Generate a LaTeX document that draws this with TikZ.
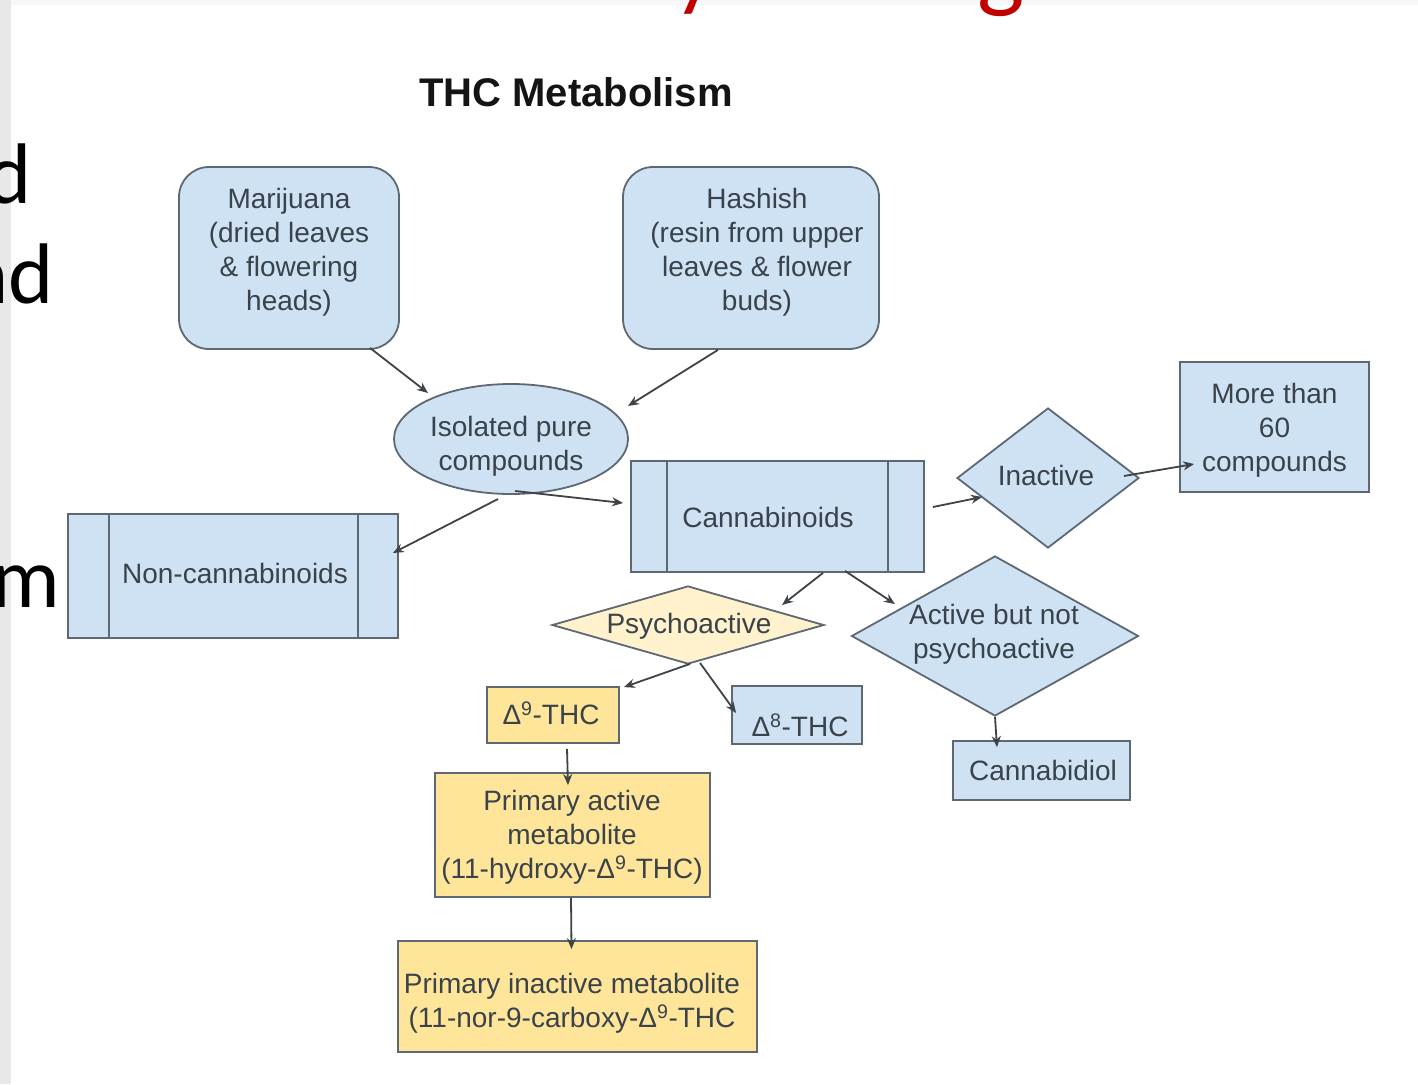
\documentclass[tikz,border=0pt]{standalone}
\usepackage{fontspec}
\setmainfont{Liberation Sans}
\newfontfamily\calib{Carlito}
\usetikzlibrary{shapes.geometric,arrows.meta,calc}
\definecolor{bluef}{HTML}{CFE2F3}
\definecolor{yelf}{HTML}{FFE599}
\definecolor{paley}{HTML}{FFF2CC}
\definecolor{edgec}{HTML}{5E6872}
\definecolor{txtc}{HTML}{3A424A}
\definecolor{linec}{HTML}{3E4348}
\definecolor{titlered}{HTML}{C00000}
\tikzset{
  txt/.style={inner sep=0pt, align=center, text=txtc, font=\fontsize{28}{34}\selectfont},
  box/.style={txt, draw=edgec, line width=1.8pt, fill=bluef},
  rbox/.style={box, rounded corners=30pt},
  ybox/.style={box, fill=yelf},
  diam/.style={box, diamond},
  conn/.style={draw=linec, line width=1.8pt, -{Stealth[length=11pt,width=9pt]}},
  stripe/.style={draw=edgec, line width=1.8pt},
  slidetxt/.style={inner sep=0pt, font=\calib\fontsize{86}{100}\selectfont, text=black}
}
\begin{document}
\begin{tikzpicture}[x=1pt,y=-1pt]
\useasboundingbox (0,0) rectangle (1418,1084);
\clip (0,0) rectangle (1418,1084);
\fill[white] (0,0) rectangle (1418,1084);
\fill[black!9] (0,0) rectangle (11,1084);
\fill[black!3] (11,0) rectangle (1418,5);

% cut-off slide text
\node[slidetxt, anchor=base, text=titlered, font=\calib\fontsize{92}{100}\selectfont] (ty) at (695,-1) {y};
\node[slidetxt, anchor=base, text=titlered, font=\calib\fontsize{100}{110}\selectfont] (tg) at (1001,-1) {g};
\node[slidetxt, anchor=base east] (ld) at (32,203) {d};
\node[slidetxt, anchor=base east] (lnd) at (54,303) {nd};
\node[slidetxt, anchor=base east] (lm) at (60,607) {m};

% title
\node[inner sep=0pt, font=\bfseries\fontsize{40}{44}\selectfont, text=black!92] (title) at (576,92) {THC Metabolism};

% nodes
\node[rbox, minimum width=220, minimum height=182] (mar) at (289,258) {};
\node[txt] (mart) at (289,252) {Marijuana\\(dried leaves\\\& flowering\\heads)};
\node[rbox, minimum width=256, minimum height=182] (hash) at (751,258) {};
\node[txt] (hasht) at (757,252) {Hashish\\(resin from upper\\leaves \& flower\\buds)};
\node[box, ellipse, minimum width=234, minimum height=110] (iso) at (511,439) {};
\node[txt] (isot) at (511,446) {Isolated pure\\compounds};
\node[box, minimum width=293, minimum height=111] (cann) at (777.5,516.5) {};
\node[txt] (cannt) at (768,517) {Cannabinoids};
\node[box, minimum width=330, minimum height=124] (nonc) at (233,576) {};
\node[txt] (nonct) at (235,573) {Non-cannabinoids};
\node[diam, shape aspect=1.3, minimum width=182, minimum height=140] (inact) at (1048,478) {};
\node[txt] (inactt) at (1046,475) {Inactive};
\node[box, minimum width=189, minimum height=130] (more) at (1274.5,427) {};
\node[txt] (moret) at (1274.5,430) {More than\\60\\compounds};
\node[diam, fill=paley, shape aspect=3.5, minimum width=272, minimum height=78] (psy) at (688,625) {};
\node[txt] (psyt) at (689,626) {Psychoactive};
\node[diam, shape aspect=1.79, minimum width=287, minimum height=160] (act) at (995,636) {};
\node[txt] (actt) at (994,634) {Active but not\\psychoactive};
\node[ybox, minimum width=132, minimum height=56] (d9) at (553,715) {};
\node[txt] (d9t) at (551,713) {Δ\textsuperscript{9}-THC};
\node[box, minimum width=130, minimum height=58] (d8) at (797,715) {};
\node[txt] (d8t) at (800,725) {Δ\textsuperscript{8}-THC};
\node[box, minimum width=177, minimum height=59] (cbd) at (1041.5,770.5) {};
\node[txt] (cbdt) at (1043,770) {Cannabidiol};
\node[ybox, minimum width=275, minimum height=124] (pam) at (572.5,835) {};
\node[txt] (pamt) at (572,837) {Primary active\\metabolite\\(11-hydroxy-Δ\textsuperscript{9}-THC)};
\node[ybox, minimum width=359, minimum height=111] (pim) at (577.5,996.5) {};
\node[txt] (pimt) at (572,1003) {Primary inactive metabolite\\(11-nor-9-carboxy-Δ\textsuperscript{9}-THC};

% stripes of the process boxes
\draw[stripe] ($(cann.north west)+(37,0)$) -- ($(cann.south west)+(37,0)$);
\draw[stripe] ($(cann.north east)+(-37,0)$) -- ($(cann.south east)+(-37,0)$);
\draw[stripe] ($(nonc.north west)+(42,0)$) -- ($(nonc.south west)+(42,0)$);
\draw[stripe] ($(nonc.north east)+(-41,0)$) -- ($(nonc.south east)+(-41,0)$);

% connectors
\draw[conn] ($(mar.south)+(81,-2)$) -- ($(iso.center)+(-83,-46)$);
\draw[conn] ($(hash.south)+(-33,0)$) -- ($(iso.center)+(117,-33)$);
\draw[conn] ($(iso.center)+(-13,60)$) -- ($(nonc.east)+(-6,-23)$);
\draw[conn] ($(iso.center)+(4,52)$) -- ($(cann.west)+(-7,-13.5)$);
\draw[conn] ($(cann.east)+(8,-9.5)$) -- ($(inact.center)+(-66,19)$);
\draw[conn] ($(inact.center)+(76,-2)$) -- ($(more.west)+(15,37)$);
\draw[conn] ($(cann.south)+(45.5,0)$) -- ($(psy.center)+(94,-20)$);
\draw[conn] ($(cann.south)+(67.5,-2)$) -- ($(act.center)+(-100,-32)$);
\draw[conn] ($(psy.south)+(2,-1)$) -- ($(d9.north east)+(4,1)$);
\draw[conn] ($(psy.south)+(12,-2)$) -- ($(d8.west)+(5,-2)$);
\draw[conn] (act.south) -- ($(cbd.north)+(-44.5,7)$);
\draw[conn] ($(d9.south)+(14,5)$) -- ($(pam.north)+(-4.5,13)$);
\draw[conn] ($(pam.south)+(-1.5,0)$) -- ($(pim.north)+(-6,9)$);
\end{tikzpicture}
\end{document}
